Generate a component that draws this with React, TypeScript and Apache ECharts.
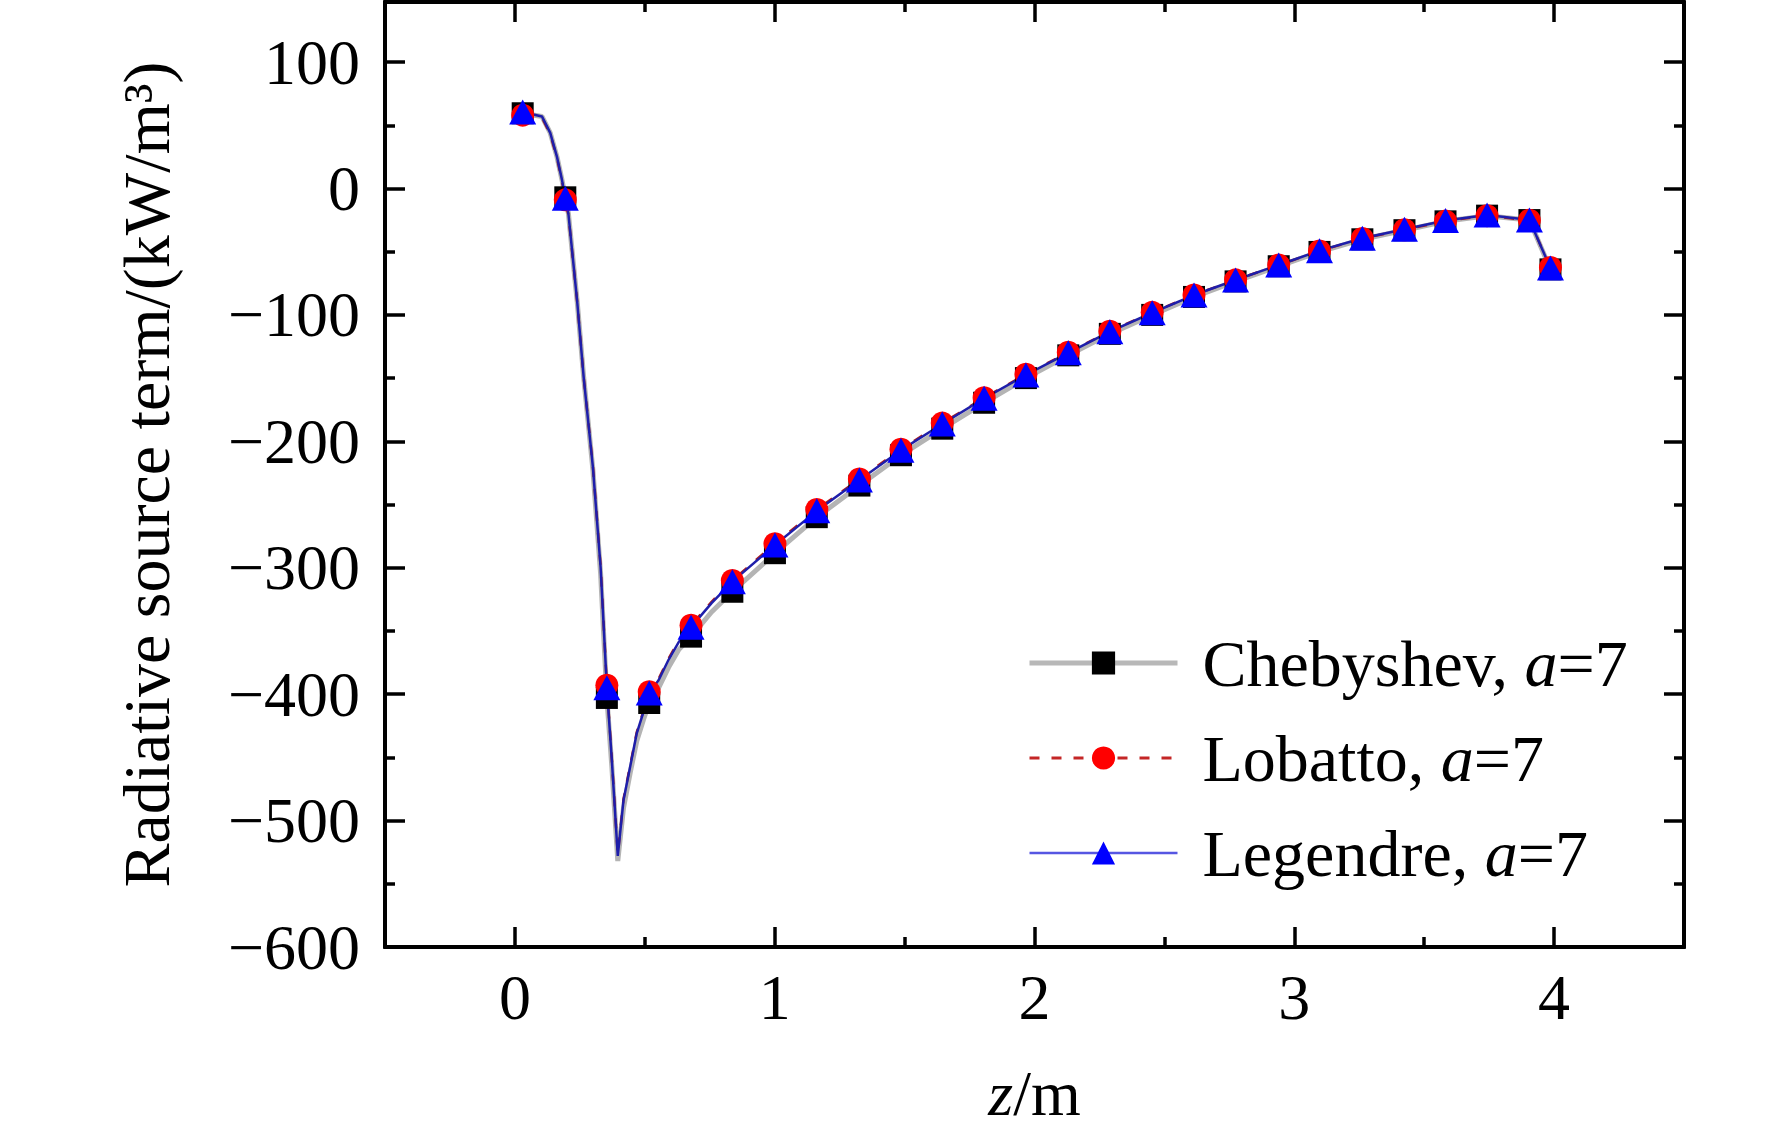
import React, { useEffect, useRef } from 'react';
import * as echarts from 'echarts';

const FONT = '"Liberation Serif", "Times New Roman", serif';

const methodNames = ['Chebyshev', 'Lobatto', 'Legendre'];
const orderA = 7;

// marker positions (z / m)
const markerZ = [0.030, 0.194, 0.354, 0.517, 0.678, 0.837, 1.001, 1.162, 1.326, 1.486, 1.645, 1.806, 1.967, 2.130, 2.290, 2.453, 2.614, 2.774, 2.940, 3.097, 3.262, 3.424, 3.582, 3.742, 3.905, 3.986];
const chebyshevY = [59.5, -7, -403, -407, -354.5, -319, -288.5, -260, -235, -211, -190, -169.5, -150, -132, -115, -100, -85.8, -73.5, -61.5, -50.2, -40.2, -33, -26, -21.5, -25, -64];
const lobattoY = [58, -9, -393, -398, -345.5, -310, -281, -254, -229.8, -206.2, -185.6, -165.5, -147, -129.6, -113, -98, -84.2, -72.3, -60.6, -49.4, -39.6, -32.6, -25.8, -21.5, -25.2, -62.5];
const legendreY = [60.5, -7.8, -395, -399, -347, -311, -282, -255, -230.6, -207, -186.3, -166, -147.5, -130, -113.3, -98.3, -84.3, -72.4, -60.5, -49.2, -39.4, -32.3, -25.4, -21, -24.9, -63];

// additional points of the continuous curves
const curveZ = [0.104, 0.136, 0.162, 0.181, 0.206, 0.240, 0.265, 0.300, 0.330, 0.373, 0.396, 0.418, 0.444, 0.469, 0.495, 0.553, 0.591, 0.630, 0.757];
const chebyshevCurveY = [57, 44, 25, 7, -20, -90, -150, -222, -305, -457, -532, -490, -462, -437, -420, -395, -379, -365, -335];
const lobattoCurveY = [56, 43, 24, 6, -21, -90, -150, -219, -299, -451, -527, -483, -456, -430, -413, -388, -372, -358, -327];
const legendreCurveY = [57, 44, 25, 7, -20, -90, -150, -220, -300, -452, -528, -484, -457, -431, -414, -389, -373, -359, -328];

const xRange = [-0.5, 4.5];
const yRange = [-600, 147.5];
const xMajorTicks = [0, 1, 2, 3, 4];
const xMinorTicks = [0.5, 1.5, 2.5, 3.5];
const yMajorTicks = [-600, -500, -400, -300, -200, -100, 0, 100];
const yMinorTicks = [-550, -450, -350, -250, -150, -50, 50];

function buildData(ys: number[], curveYs: number[]) {
  const pts: any[] = [];
  markerZ.forEach((z, i) => pts.push({ value: [z, ys[i]] }));
  curveZ.forEach((z, i) => pts.push({ value: [z, curveYs[i]], symbol: 'none' }));
  pts.sort((a, b) => a.value[0] - b.value[0]);
  return pts;
}

const lineStyleAxis = { color: '#000', width: 4 };
const tickStyle = { color: '#000', width: 3.5 };

function xAxisDef(position: string, ticks: number[], len: number, extra: any = {}) {
  return {
    type: 'value',
    position,
    min: xRange[0],
    max: xRange[1],
    axisLine: { show: true, onZero: false, lineStyle: lineStyleAxis },
    axisTick: { show: true, inside: true, length: len, lineStyle: tickStyle, customValues: ticks },
    axisLabel: { show: false },
    splitLine: { show: false },
    ...extra,
  };
}

function yAxisDef(position: string, ticks: number[], len: number, extra: any = {}) {
  return {
    type: 'value',
    position,
    min: yRange[0],
    max: yRange[1],
    axisLine: { show: true, onZero: false, lineStyle: lineStyleAxis },
    axisTick: { show: true, inside: true, length: len, lineStyle: tickStyle, customValues: ticks },
    axisLabel: { show: false },
    splitLine: { show: false },
    ...extra,
  };
}

export default function App() {
  const ref = useRef<HTMLDivElement>(null);
  useEffect(() => {
    document.body.style.margin = '0';
    const chart = echarts.init(ref.current!, null, { renderer: 'svg' });
    const option: any = {
      animation: false,
      backgroundColor: '#fff',
      grid: { left: 385, right: 88, top: 2, bottom: 189, outerBoundsMode: 'none' },
      xAxis: [
        xAxisDef('bottom', xMajorTicks, 20, {
          axisLabel: {
            show: true,
            customValues: xMajorTicks,
            margin: 18,
            fontSize: 64,
            fontFamily: FONT,
            color: '#000',
          },
          name: '{i|z}{n|/m}',
          nameLocation: 'middle',
          nameGap: 114,
          nameTextStyle: {
            fontSize: 64,
            fontFamily: FONT,
            color: '#000',
            rich: {
              i: { fontSize: 64, fontFamily: FONT, fontStyle: 'italic', color: '#000' },
              n: { fontSize: 64, fontFamily: FONT, color: '#000' },
            },
          },
        }),
        xAxisDef('top', xMajorTicks, 20),
        xAxisDef('bottom', xMinorTicks, 10),
        xAxisDef('top', xMinorTicks, 10),
      ],
      yAxis: [
        yAxisDef('left', yMajorTicks, 20, {
          axisLabel: {
            show: true,
            customValues: yMajorTicks,
            margin: 25,
            fontSize: 64,
            fontFamily: FONT,
            color: '#000',
            formatter: (v: number) => (v < 0 ? '\u2212' + Math.abs(v) : String(v)),
          },
          name: 'Radiative source term/(kW/m\u00B3)',
          nameLocation: 'middle',
          nameGap: 206,
          nameTextStyle: { fontSize: 66, fontFamily: FONT, color: '#000' },
        }),
        yAxisDef('right', yMajorTicks, 20),
        yAxisDef('left', yMinorTicks, 10),
        yAxisDef('right', yMinorTicks, 10),
      ],
      legend: {
        orient: 'vertical',
        left: 1027,
        top: 628,
        itemWidth: 148,
        itemHeight: 29,
        itemGap: 25,
        padding: 0,
        selectedMode: false,
        data: [
          { name: methodNames[0], lineStyle: { width: 5, color: '#b8b8b8' } },
          { name: methodNames[1], lineStyle: { width: 3, color: '#c42626', type: [10, 12] } },
          { name: methodNames[2], lineStyle: { width: 2.5, color: '#5656e2' } },
        ],
        formatter: (name: string) => `{f|${name},} {i|a}{n|=${orderA}}`,
        textStyle: {
          fontSize: 66,
          fontFamily: FONT,
          color: '#000',
          lineHeight: 70,
          rich: {
            f: { fontSize: 66, fontFamily: FONT, color: '#000', lineHeight: 70, padding: [0, 0, 0, 20] },
            n: { fontSize: 66, fontFamily: FONT, color: '#000', lineHeight: 70 },
            i: { fontSize: 66, fontFamily: FONT, color: '#000', lineHeight: 70, fontStyle: 'italic' },
          },
        },
      },
      series: [
        {
          name: methodNames[0],
          type: 'line',
          xAxisIndex: 0,
          yAxisIndex: 0,
          data: buildData(chebyshevY, chebyshevCurveY),
          symbol: 'rect',
          symbolSize: 22,
          showAllSymbol: true,
          lineStyle: { color: '#b4b4b4', width: 5 },
          itemStyle: { color: '#000', borderWidth: 0 },
        },
        {
          name: methodNames[1],
          type: 'line',
          xAxisIndex: 0,
          yAxisIndex: 0,
          data: buildData(lobattoY, lobattoCurveY),
          symbol: 'circle',
          symbolSize: 23,
          showAllSymbol: true,
          lineStyle: { color: '#b01c1c', width: 2.5, type: [10, 12] },
          itemStyle: { color: '#ff0000', borderWidth: 0 },
        },
        {
          name: methodNames[2],
          type: 'line',
          xAxisIndex: 0,
          yAxisIndex: 0,
          data: buildData(legendreY, legendreCurveY),
          symbol: 'triangle',
          symbolSize: [27, 25],
          showAllSymbol: true,
          lineStyle: { color: '#1e1eaa', width: 2.5 },
          itemStyle: { color: '#0000ff', borderWidth: 0 },
        },
      ],
    };
    chart.setOption(option);
    return () => chart.dispose();
  }, []);
  return (
    <div
      ref={ref}
      style={{ position: 'absolute', left: 0, top: 0, width: 1772, height: 1136, background: '#fff' }}
    />
  );
}
